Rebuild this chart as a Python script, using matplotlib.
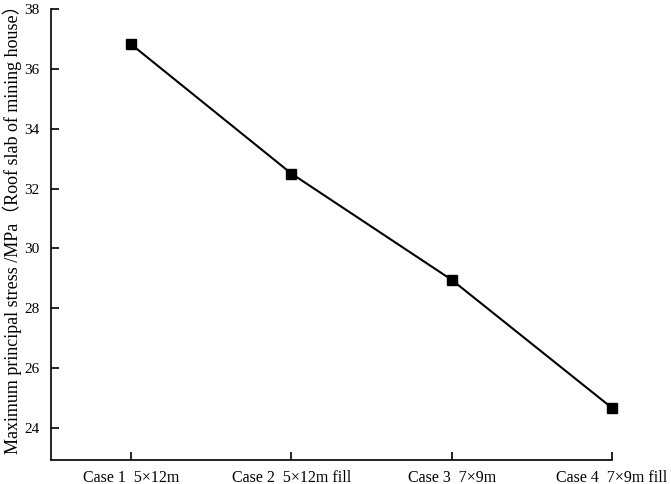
import matplotlib
matplotlib.use('Agg')
import matplotlib.pyplot as plt

# Data
cases = ['Case 1  5×12m', 'Case 2  5×12m fill', 'Case 3  7×9m', 'Case 4  7×9m fill']
stress = [36.82, 32.5, 28.95, 24.67]
y_ticks = [24, 26, 28, 30, 32, 34, 36, 38]

plt.rcParams['font.family'] = ['Liberation Serif', 'Noto Sans CJK SC']

fig = plt.figure(figsize=(6.71, 4.84), dpi=100)
ax = fig.add_axes([51 / 671, 24 / 484, (612 - 51) / 671, (460 - 9) / 484])

x = list(range(len(cases)))
ax.plot(x, stress, color='black', linewidth=1.5, marker='s', markersize=7,
        clip_on=False, zorder=3)

ax.set_xlim(-0.5, 3)
ax.set_ylim(22.93, 38)
ax.set_xticks(x)
ax.set_xticklabels(cases, fontsize=11.5)
ax.set_yticks(y_ticks)
ax.tick_params(axis='y', labelsize=11, direction='in', length=6, width=1.2, pad=8)
ax.tick_params(axis='x', direction='in', length=6, width=1.2, pad=7)

ax.spines['top'].set_visible(False)
ax.spines['right'].set_visible(False)
ax.spines['left'].set_linewidth(1.2)
ax.spines['bottom'].set_linewidth(1.2)

ax.set_ylabel('Maximum principal stress /MPa（Roof slab of mining house）', fontsize=13)
ax.yaxis.set_label_coords(-0.052, 0.52)

fig.savefig('out.png', dpi=100)
